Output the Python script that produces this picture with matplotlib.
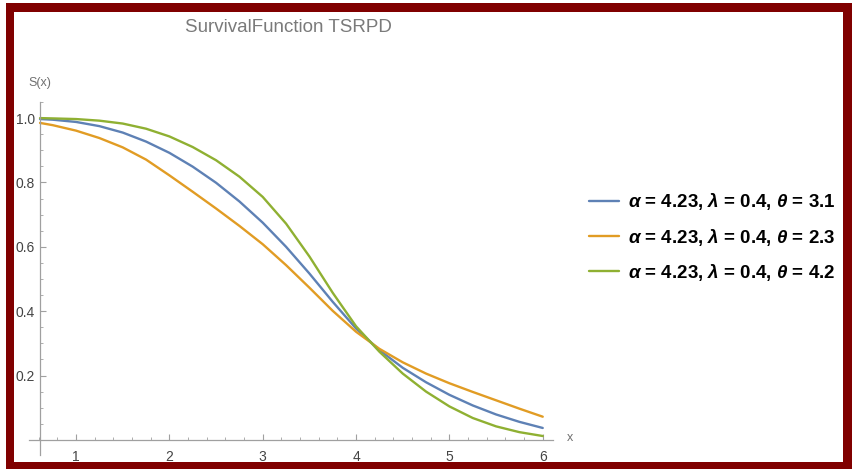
import matplotlib
matplotlib.use('Agg')
import matplotlib.pyplot as plt
from matplotlib.ticker import MultipleLocator
from matplotlib.patches import Rectangle

# values
x_vals = [0.614, 0.75, 1.0, 1.25, 1.5, 1.75, 2.0, 2.25, 2.5, 2.75, 3.0, 3.25,
          3.5, 3.75, 4.0, 4.25, 4.5, 4.75, 5.0, 5.25, 5.5, 5.75, 6.0]
s_theta31 = [0.997, 0.995, 0.988, 0.975, 0.955, 0.927, 0.892, 0.849, 0.799, 0.741,
             0.675, 0.600, 0.517, 0.429, 0.346, 0.279, 0.224, 0.179, 0.140, 0.107,
             0.079, 0.056, 0.037]
s_theta23 = [0.985, 0.978, 0.961, 0.938, 0.909, 0.871, 0.822, 0.771, 0.719, 0.665,
             0.608, 0.543, 0.473, 0.401, 0.336, 0.283, 0.241, 0.206, 0.176, 0.149,
             0.123, 0.097, 0.072]
s_theta42 = [1.000, 0.999, 0.997, 0.992, 0.983, 0.967, 0.943, 0.910, 0.869, 0.818,
             0.755, 0.672, 0.570, 0.457, 0.353, 0.274, 0.206, 0.150, 0.104, 0.068,
             0.042, 0.024, 0.012]
labels = [r'$\alpha$ = 4.23, $\lambda$ = 0.4, $\theta$ = 3.1',
          r'$\alpha$ = 4.23, $\lambda$ = 0.4, $\theta$ = 2.3',
          r'$\alpha$ = 4.23, $\lambda$ = 0.4, $\theta$ = 4.2']
x_ticks = [1, 2, 3, 4, 5, 6]
y_ticks = [0.2, 0.4, 0.6, 0.8, 1.0]

plt.rcParams['font.family'] = ['Liberation Sans', 'DejaVu Sans']
plt.rcParams['mathtext.fontset'] = 'custom'
plt.rcParams['mathtext.it'] = 'Liberation Sans:italic:bold'
plt.rcParams['mathtext.rm'] = 'Liberation Sans:bold'
plt.rcParams['mathtext.bf'] = 'Liberation Sans:bold'

W, H = 853, 469
fig = plt.figure(figsize=(W / 100, H / 100), dpi=100)
ax = fig.add_axes([29.4 / W, 14 / H, 523.6 / W, 353 / H])

colors = ['#5E81B5', '#E19C24', '#8FB032']
for ys, c, lbl in zip([s_theta31, s_theta23, s_theta42], colors, labels):
    ax.plot(x_vals, ys, color=c, lw=1.7, label=lbl, solid_capstyle='round',
            solid_joinstyle='round')

ax.set_xlim(0.5, 6.11)
ax.set_ylim(-0.047, 1.05)

axis_col = '#a0a0a0'
for side in ['top', 'right']:
    ax.spines[side].set_visible(False)
ax.spines['left'].set_position(('data', 0.614))
ax.spines['bottom'].set_position(('data', 0))
for side in ['left', 'bottom']:
    ax.spines[side].set_color(axis_col)
    ax.spines[side].set_linewidth(0.9)

ax.set_xticks(x_ticks)
ax.set_yticks(y_ticks)
ax.set_yticklabels(['{:.1f}'.format(v) for v in y_ticks])
ax.xaxis.set_minor_locator(MultipleLocator(0.2))
ax.yaxis.set_minor_locator(MultipleLocator(0.05))
ax.tick_params(which='both', direction='in', color=axis_col, labelcolor='#444444',
               labelsize=10)
ax.tick_params(which='major', length=4, width=0.8)
ax.tick_params(which='minor', length=2.5, width=0.6)
ax.tick_params(axis='x', pad=7)
ax.tick_params(axis='y', pad=3.5)

fig.text(288 / W, 1 - 28 / H, 'SurvivalFunction TSRPD', ha='center', va='center',
         fontsize=13.5, color='#7a7a7a')
fig.text(40 / W, 1 - 83 / H, 'S(x)', ha='center', va='center', fontsize=9,
         color='#707070')
fig.text(570 / W, 1 - 438 / H, 'x', ha='center', va='center', fontsize=9,
         color='#707070')

ax.legend(loc='center left', bbox_to_anchor=(589 / W, 1 - 237 / H),
          bbox_transform=fig.transFigure, frameon=False, handlelength=1.6,
          handletextpad=0.5, labelspacing=0.75, borderpad=0, borderaxespad=0,
          prop={'weight': 'bold', 'size': 13.5})

# dark red frame round the picture
red = '#800000'
frame = [Rectangle((6 / W, 1 - 12 / H), 847 / W, 9 / H),
         Rectangle((6 / W, 0), 8 / W, 466 / H),
         Rectangle((843 / W, 0), 10 / W, 466 / H),
         Rectangle((6 / W, 0), 847 / W, 7 / H)]
for r in frame:
    r.set_transform(fig.transFigure)
    r.set_facecolor(red)
    r.set_edgecolor('none')
    r.set_zorder(20)
    fig.patches.append(r)

fig.savefig('out.png', dpi=100)
